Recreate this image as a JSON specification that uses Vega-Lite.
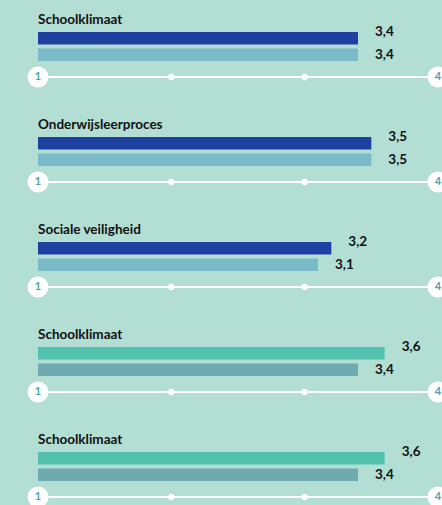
{
  "$schema": "https://vega.github.io/schema/vega-lite/v6.json",
  "background": "#b3ded4",
  "padding": {"left": 27, "top": 13, "right": 0, "bottom": 2},
  "spacing": 30,
  "datasets": {
    "bars": [
      {"g": 1, "s": "school", "v": 3.4},
      {"g": 1, "s": "referentie", "v": 3.4},
      {"g": 2, "s": "school", "v": 3.5},
      {"g": 2, "s": "referentie", "v": 3.5},
      {"g": 3, "s": "school", "v": 3.2},
      {"g": 3, "s": "referentie", "v": 3.1},
      {"g": 4, "s": "school", "v": 3.6},
      {"g": 4, "s": "referentie", "v": 3.4},
      {"g": 5, "s": "school", "v": 3.6},
      {"g": 5, "s": "referentie", "v": 3.4}
    ],
    "schaal": [
      {"t": 1, "kind": "eind"},
      {"t": 2, "kind": "midden"},
      {"t": 3, "kind": "midden"},
      {"t": 4, "kind": "eind"}
    ]
  },
  "config": {
    "view": {"stroke": null},
    "font": "Lato",
    "locale": {"number": {"decimal": ",", "thousands": ".", "grouping": [3], "currency": ["€", ""]}},
    "title": {"anchor": "start", "frame": "group", "font": "Lato", "fontSize": 13.5, "fontWeight": "bold", "color": "#111111"}
  },
  "resolve": {"scale": {"color": "independent"}},
  "vconcat": [
    {
      "title": {"text": "Schoolklimaat", "offset": -1.5},
      "width": 400, "height": 45,
      "resolve": {"scale": {"y": "independent"}},
      "layer": [
        {
          "data": {"name": "bars"},
          "transform": [{"filter": "datum.g == 1"}],
          "mark": {"type": "bar"},
          "encoding": {
            "y": {"field": "s", "type": "nominal", "axis": null, "scale": {"domain": ["school", "referentie"], "paddingInner": 0.24, "paddingOuter": 0.48, "align": 0}},
            "x": {"field": "v", "type": "quantitative", "axis": null, "scale": {"domain": [1, 4], "zero": false, "nice": false}},
            "x2": {"datum": 1},
            "color": {"field": "s", "type": "nominal", "legend": null, "scale": {"domain": ["school", "referentie"], "range": ["#1e40a0", "#7bbac8"]}}
          }
        },
        {
          "data": {"name": "bars"},
          "transform": [{"filter": "datum.g == 1"}],
          "mark": {"type": "text", "align": "left", "dx": 17, "fontSize": 13.5, "fontWeight": "bold", "color": "#111111"},
          "encoding": {
            "y": {"field": "s", "type": "nominal", "axis": null, "scale": {"domain": ["school", "referentie"], "paddingInner": 0.24, "paddingOuter": 0.48, "align": 0}},
            "x": {"field": "v", "type": "quantitative"},
            "text": {"field": "v", "type": "quantitative", "format": ".1f"}
          }
        },
        {
          "data": {"name": "schaal"},
          "layer": [
            {"mark": {"type": "rule", "color": "white", "strokeWidth": 2},
             "encoding": {"x": {"aggregate": "min", "field": "t", "type": "quantitative"}, "x2": {"aggregate": "max", "field": "t"}, "y": {"datum": "as", "type": "nominal", "axis": null, "scale": {"type": "point", "domain": ["as"], "padding": 0, "align": 1}}}},
            {"mark": {"type": "point", "filled": true, "color": "white", "opacity": 1},
             "encoding": {"x": {"field": "t", "type": "quantitative"}, "y": {"datum": "as", "type": "nominal"},
               "size": {"field": "kind", "type": "nominal", "legend": null, "scale": {"domain": ["eind", "midden"], "range": [440, 40]}}}},
            {"transform": [{"filter": "datum.kind == 'eind'"}],
             "mark": {"type": "text", "color": "#4f9fae", "fontSize": 11, "fontWeight": "bold"},
             "encoding": {"x": {"field": "t", "type": "quantitative"}, "y": {"datum": "as", "type": "nominal"}, "text": {"field": "t", "type": "quantitative"}}}
          ]
        }
      ]
    },
    {
      "title": {"text": "Onderwijsleerproces", "offset": -1.5},
      "width": 400, "height": 45,
      "resolve": {"scale": {"y": "independent"}},
      "layer": [
        {
          "data": {"name": "bars"},
          "transform": [{"filter": "datum.g == 2"}],
          "mark": {"type": "bar"},
          "encoding": {
            "y": {"field": "s", "type": "nominal", "axis": null, "scale": {"domain": ["school", "referentie"], "paddingInner": 0.24, "paddingOuter": 0.48, "align": 0}},
            "x": {"field": "v", "type": "quantitative", "axis": null, "scale": {"domain": [1, 4], "zero": false, "nice": false}},
            "x2": {"datum": 1},
            "color": {"field": "s", "type": "nominal", "legend": null, "scale": {"domain": ["school", "referentie"], "range": ["#1e40a0", "#7bbac8"]}}
          }
        },
        {
          "data": {"name": "bars"},
          "transform": [{"filter": "datum.g == 2"}],
          "mark": {"type": "text", "align": "left", "dx": 17, "fontSize": 13.5, "fontWeight": "bold", "color": "#111111"},
          "encoding": {
            "y": {"field": "s", "type": "nominal", "axis": null, "scale": {"domain": ["school", "referentie"], "paddingInner": 0.24, "paddingOuter": 0.48, "align": 0}},
            "x": {"field": "v", "type": "quantitative"},
            "text": {"field": "v", "type": "quantitative", "format": ".1f"}
          }
        },
        {
          "data": {"name": "schaal"},
          "layer": [
            {"mark": {"type": "rule", "color": "white", "strokeWidth": 2},
             "encoding": {"x": {"aggregate": "min", "field": "t", "type": "quantitative"}, "x2": {"aggregate": "max", "field": "t"}, "y": {"datum": "as", "type": "nominal", "axis": null, "scale": {"type": "point", "domain": ["as"], "padding": 0, "align": 1}}}},
            {"mark": {"type": "point", "filled": true, "color": "white", "opacity": 1},
             "encoding": {"x": {"field": "t", "type": "quantitative"}, "y": {"datum": "as", "type": "nominal"},
               "size": {"field": "kind", "type": "nominal", "legend": null, "scale": {"domain": ["eind", "midden"], "range": [440, 40]}}}},
            {"transform": [{"filter": "datum.kind == 'eind'"}],
             "mark": {"type": "text", "color": "#4f9fae", "fontSize": 11, "fontWeight": "bold"},
             "encoding": {"x": {"field": "t", "type": "quantitative"}, "y": {"datum": "as", "type": "nominal"}, "text": {"field": "t", "type": "quantitative"}}}
          ]
        }
      ]
    },
    {
      "title": {"text": "Sociale veiligheid", "offset": -1.5},
      "width": 400, "height": 45,
      "resolve": {"scale": {"y": "independent"}},
      "layer": [
        {
          "data": {"name": "bars"},
          "transform": [{"filter": "datum.g == 3"}],
          "mark": {"type": "bar"},
          "encoding": {
            "y": {"field": "s", "type": "nominal", "axis": null, "scale": {"domain": ["school", "referentie"], "paddingInner": 0.24, "paddingOuter": 0.48, "align": 0}},
            "x": {"field": "v", "type": "quantitative", "axis": null, "scale": {"domain": [1, 4], "zero": false, "nice": false}},
            "x2": {"datum": 1},
            "color": {"field": "s", "type": "nominal", "legend": null, "scale": {"domain": ["school", "referentie"], "range": ["#1e40a0", "#7bbac8"]}}
          }
        },
        {
          "data": {"name": "bars"},
          "transform": [{"filter": "datum.g == 3"}],
          "mark": {"type": "text", "align": "left", "dx": 17, "fontSize": 13.5, "fontWeight": "bold", "color": "#111111"},
          "encoding": {
            "y": {"field": "s", "type": "nominal", "axis": null, "scale": {"domain": ["school", "referentie"], "paddingInner": 0.24, "paddingOuter": 0.48, "align": 0}},
            "x": {"field": "v", "type": "quantitative"},
            "text": {"field": "v", "type": "quantitative", "format": ".1f"}
          }
        },
        {
          "data": {"name": "schaal"},
          "layer": [
            {"mark": {"type": "rule", "color": "white", "strokeWidth": 2},
             "encoding": {"x": {"aggregate": "min", "field": "t", "type": "quantitative"}, "x2": {"aggregate": "max", "field": "t"}, "y": {"datum": "as", "type": "nominal", "axis": null, "scale": {"type": "point", "domain": ["as"], "padding": 0, "align": 1}}}},
            {"mark": {"type": "point", "filled": true, "color": "white", "opacity": 1},
             "encoding": {"x": {"field": "t", "type": "quantitative"}, "y": {"datum": "as", "type": "nominal"},
               "size": {"field": "kind", "type": "nominal", "legend": null, "scale": {"domain": ["eind", "midden"], "range": [440, 40]}}}},
            {"transform": [{"filter": "datum.kind == 'eind'"}],
             "mark": {"type": "text", "color": "#4f9fae", "fontSize": 11, "fontWeight": "bold"},
             "encoding": {"x": {"field": "t", "type": "quantitative"}, "y": {"datum": "as", "type": "nominal"}, "text": {"field": "t", "type": "quantitative"}}}
          ]
        }
      ]
    },
    {
      "title": {"text": "Schoolklimaat", "offset": -1.5},
      "width": 400, "height": 45,
      "resolve": {"scale": {"y": "independent"}},
      "layer": [
        {
          "data": {"name": "bars"},
          "transform": [{"filter": "datum.g == 4"}],
          "mark": {"type": "bar"},
          "encoding": {
            "y": {"field": "s", "type": "nominal", "axis": null, "scale": {"domain": ["school", "referentie"], "paddingInner": 0.24, "paddingOuter": 0.48, "align": 0}},
            "x": {"field": "v", "type": "quantitative", "axis": null, "scale": {"domain": [1, 4], "zero": false, "nice": false}},
            "x2": {"datum": 1},
            "color": {"field": "s", "type": "nominal", "legend": null, "scale": {"domain": ["school", "referentie"], "range": ["#52c2af", "#6eaab0"]}}
          }
        },
        {
          "data": {"name": "bars"},
          "transform": [{"filter": "datum.g == 4"}],
          "mark": {"type": "text", "align": "left", "dx": 17, "fontSize": 13.5, "fontWeight": "bold", "color": "#111111"},
          "encoding": {
            "y": {"field": "s", "type": "nominal", "axis": null, "scale": {"domain": ["school", "referentie"], "paddingInner": 0.24, "paddingOuter": 0.48, "align": 0}},
            "x": {"field": "v", "type": "quantitative"},
            "text": {"field": "v", "type": "quantitative", "format": ".1f"}
          }
        },
        {
          "data": {"name": "schaal"},
          "layer": [
            {"mark": {"type": "rule", "color": "white", "strokeWidth": 2},
             "encoding": {"x": {"aggregate": "min", "field": "t", "type": "quantitative"}, "x2": {"aggregate": "max", "field": "t"}, "y": {"datum": "as", "type": "nominal", "axis": null, "scale": {"type": "point", "domain": ["as"], "padding": 0, "align": 1}}}},
            {"mark": {"type": "point", "filled": true, "color": "white", "opacity": 1},
             "encoding": {"x": {"field": "t", "type": "quantitative"}, "y": {"datum": "as", "type": "nominal"},
               "size": {"field": "kind", "type": "nominal", "legend": null, "scale": {"domain": ["eind", "midden"], "range": [440, 40]}}}},
            {"transform": [{"filter": "datum.kind == 'eind'"}],
             "mark": {"type": "text", "color": "#4f9fae", "fontSize": 11, "fontWeight": "bold"},
             "encoding": {"x": {"field": "t", "type": "quantitative"}, "y": {"datum": "as", "type": "nominal"}, "text": {"field": "t", "type": "quantitative"}}}
          ]
        }
      ]
    },
    {
      "title": {"text": "Schoolklimaat", "offset": -1.5},
      "width": 400, "height": 45,
      "resolve": {"scale": {"y": "independent"}},
      "layer": [
        {
          "data": {"name": "bars"},
          "transform": [{"filter": "datum.g == 5"}],
          "mark": {"type": "bar"},
          "encoding": {
            "y": {"field": "s", "type": "nominal", "axis": null, "scale": {"domain": ["school", "referentie"], "paddingInner": 0.24, "paddingOuter": 0.48, "align": 0}},
            "x": {"field": "v", "type": "quantitative", "axis": null, "scale": {"domain": [1, 4], "zero": false, "nice": false}},
            "x2": {"datum": 1},
            "color": {"field": "s", "type": "nominal", "legend": null, "scale": {"domain": ["school", "referentie"], "range": ["#52c2af", "#6eaab0"]}}
          }
        },
        {
          "data": {"name": "bars"},
          "transform": [{"filter": "datum.g == 5"}],
          "mark": {"type": "text", "align": "left", "dx": 17, "fontSize": 13.5, "fontWeight": "bold", "color": "#111111"},
          "encoding": {
            "y": {"field": "s", "type": "nominal", "axis": null, "scale": {"domain": ["school", "referentie"], "paddingInner": 0.24, "paddingOuter": 0.48, "align": 0}},
            "x": {"field": "v", "type": "quantitative"},
            "text": {"field": "v", "type": "quantitative", "format": ".1f"}
          }
        },
        {
          "data": {"name": "schaal"},
          "layer": [
            {"mark": {"type": "rule", "color": "white", "strokeWidth": 2},
             "encoding": {"x": {"aggregate": "min", "field": "t", "type": "quantitative"}, "x2": {"aggregate": "max", "field": "t"}, "y": {"datum": "as", "type": "nominal", "axis": null, "scale": {"type": "point", "domain": ["as"], "padding": 0, "align": 1}}}},
            {"mark": {"type": "point", "filled": true, "color": "white", "opacity": 1},
             "encoding": {"x": {"field": "t", "type": "quantitative"}, "y": {"datum": "as", "type": "nominal"},
               "size": {"field": "kind", "type": "nominal", "legend": null, "scale": {"domain": ["eind", "midden"], "range": [440, 40]}}}},
            {"transform": [{"filter": "datum.kind == 'eind'"}],
             "mark": {"type": "text", "color": "#4f9fae", "fontSize": 11, "fontWeight": "bold"},
             "encoding": {"x": {"field": "t", "type": "quantitative"}, "y": {"datum": "as", "type": "nominal"}, "text": {"field": "t", "type": "quantitative"}}}
          ]
        }
      ]
    }
  ]
}
